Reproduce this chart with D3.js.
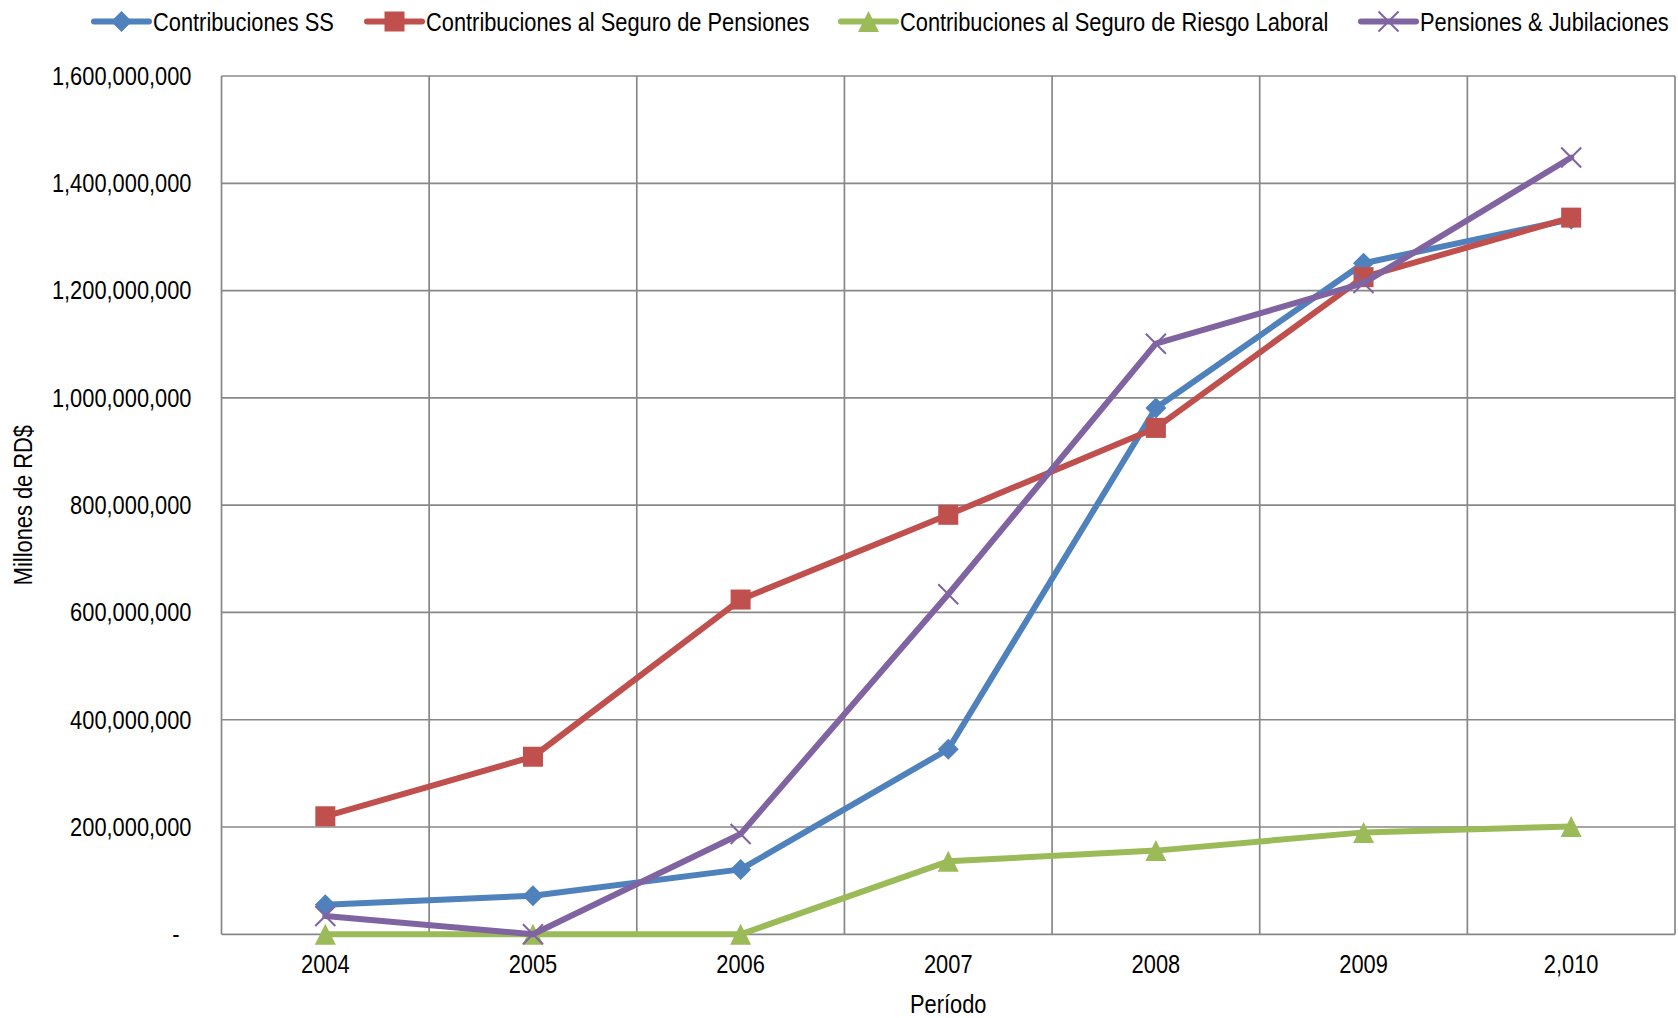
<!DOCTYPE html>
<html><head><meta charset="utf-8">
<script src="https://cdnjs.cloudflare.com/ajax/libs/d3/7.8.5/d3.min.js"></script>
<style>
html,body{margin:0;padding:0;background:#fff;}
svg text{font-family:"Liberation Sans",Arial,sans-serif !important;fill:#000;font-size:26px !important;}
</style></head>
<body>
<svg id="chart" width="1678" height="1018"></svg>
<script>
const categories = ["2004","2005","2006","2007","2008","2009","2,010"];
const seriesNames = ["Contribuciones SS","Contribuciones al Seguro de Pensiones","Contribuciones al Seguro de Riesgo Laboral","Pensiones & Jubilaciones"];
const contribSS = [55e6, 72e6, 121e6, 345e6, 981e6, 1251e6, 1333e6];
const contribPensiones = [220e6, 331e6, 624e6, 782e6, 944e6, 1225e6, 1336e6];
const contribRiesgo = [0, 0, 0, 136e6, 156e6, 190e6, 201e6];
const pensionesJub = [34e6, 0, 187e6, 634e6, 1101e6, 1214e6, 1448e6];
const yTicks = [0, 200e6, 400e6, 600e6, 800e6, 1000e6, 1200e6, 1400e6, 1600e6];
const colors = ["#4F81BD","#C0504D","#9BBB59","#8064A2"];
const markers = ["diamond","square","triangle","x"];
const allSeries = [contribSS, contribPensiones, contribRiesgo, pensionesJub];

const svg = d3.select("#chart");
const L = 221.5, R = 1675, T = 76, B = 934.3;
const K = 0.84; // horizontal condensation of text
const x = d3.scaleBand().domain(categories).range([L, R]);
const y = d3.scaleLinear().domain([0, 1600e6]).range([B, T]);
const grid = "#888888";

svg.append("g").selectAll("line").data(yTicks).join("line")
  .attr("x1", L).attr("x2", R).attr("y1", d => y(d)).attr("y2", d => y(d))
  .attr("stroke", grid).attr("stroke-width", 1.7);
const bounds = categories.map(c => x(c)).concat([x(categories[categories.length-1]) + x.bandwidth()]);
svg.append("g").selectAll("line").data(bounds).join("line")
  .attr("y1", T).attr("y2", B).attr("x1", d => d).attr("x2", d => d)
  .attr("stroke", grid).attr("stroke-width", 1.7);

const fmt = d3.format(",");
const yAxis = d3.axisLeft(y).tickValues(yTicks).tickSize(0).tickPadding(30)
  .tickFormat(d => d === 0 ? "-" : fmt(d));
const ya = svg.append("g").attr("transform", `translate(${L},0)`).call(yAxis);
ya.select(".domain").remove();
ya.selectAll("text").attr("dx", d => d === 0 ? -12 : 0);

const xAxis = d3.axisBottom(x).tickSize(0).tickPadding(20);
const xa = svg.append("g").attr("transform", `translate(0,${B})`).call(xAxis);
xa.select(".domain").remove();

svg.append("text").attr("x", (L + R) / 2).attr("y", 1013).attr("text-anchor", "middle").text("Período");
svg.append("text").attr("transform", `translate(32,${(T + B) / 2}) rotate(-90)`).attr("text-anchor", "middle")
  .text("Millones de RD$");

function drawMarker(g, type, cx, cy, color) {
  if (type === "diamond") {
    const s = 10.5;
    g.append("path").attr("d", `M${cx},${cy-s}L${cx+s},${cy}L${cx},${cy+s}L${cx-s},${cy}Z`).attr("fill", color);
  } else if (type === "square") {
    const s = 10;
    g.append("rect").attr("x", cx-s).attr("y", cy-s).attr("width", 2*s).attr("height", 2*s).attr("fill", color);
  } else if (type === "triangle") {
    const s = 10.5;
    g.append("path").attr("d", `M${cx},${cy-s}L${cx+s},${cy+s}L${cx-s},${cy+s}Z`).attr("fill", color);
  } else {
    const s = 10;
    g.append("path").attr("d", `M${cx-s},${cy-s}L${cx+s},${cy+s}M${cx-s},${cy+s}L${cx+s},${cy-s}`)
      .attr("stroke", color).attr("stroke-width", 2).attr("fill", "none");
  }
}

const line = d3.line().x((d, i) => x(categories[i]) + x.bandwidth() / 2).y(d => y(d));
allSeries.forEach((vals, si) => {
  const g = svg.append("g");
  g.append("path").datum(vals).attr("d", line).attr("fill", "none")
    .attr("stroke", colors[si]).attr("stroke-width", 6).attr("stroke-linejoin", "round").attr("stroke-linecap", "round");
  vals.forEach((v, i) => drawMarker(g, markers[si], x(categories[i]) + x.bandwidth() / 2, y(v), colors[si]));
});

const legendX = [94, 367, 841, 1361];
const legY = 21.5;
seriesNames.forEach((name, i) => {
  const g = svg.append("g");
  g.append("line").attr("x1", legendX[i]).attr("x2", legendX[i] + 55).attr("y1", legY).attr("y2", legY)
    .attr("stroke", colors[i]).attr("stroke-width", 6).attr("stroke-linecap", "round");
  drawMarker(g, markers[i], legendX[i] + 27.5, legY, colors[i]);
  g.append("text").attr("x", legendX[i] + 59).attr("y", legY).attr("dy", "0.36em").text(name);
});

// condense all text horizontally (narrow typeface look)
svg.selectAll("text").each(function() {
  const t = d3.select(this);
  const tx = +(t.attr("x") || 0);
  const dx = +(t.attr("dx") || 0);
  const tr = t.attr("transform") || "";
  t.attr("x", tx / K).attr("dx", dx / K).attr("transform", `${tr} scale(${K},1)`);
});
</script>
</body></html>
